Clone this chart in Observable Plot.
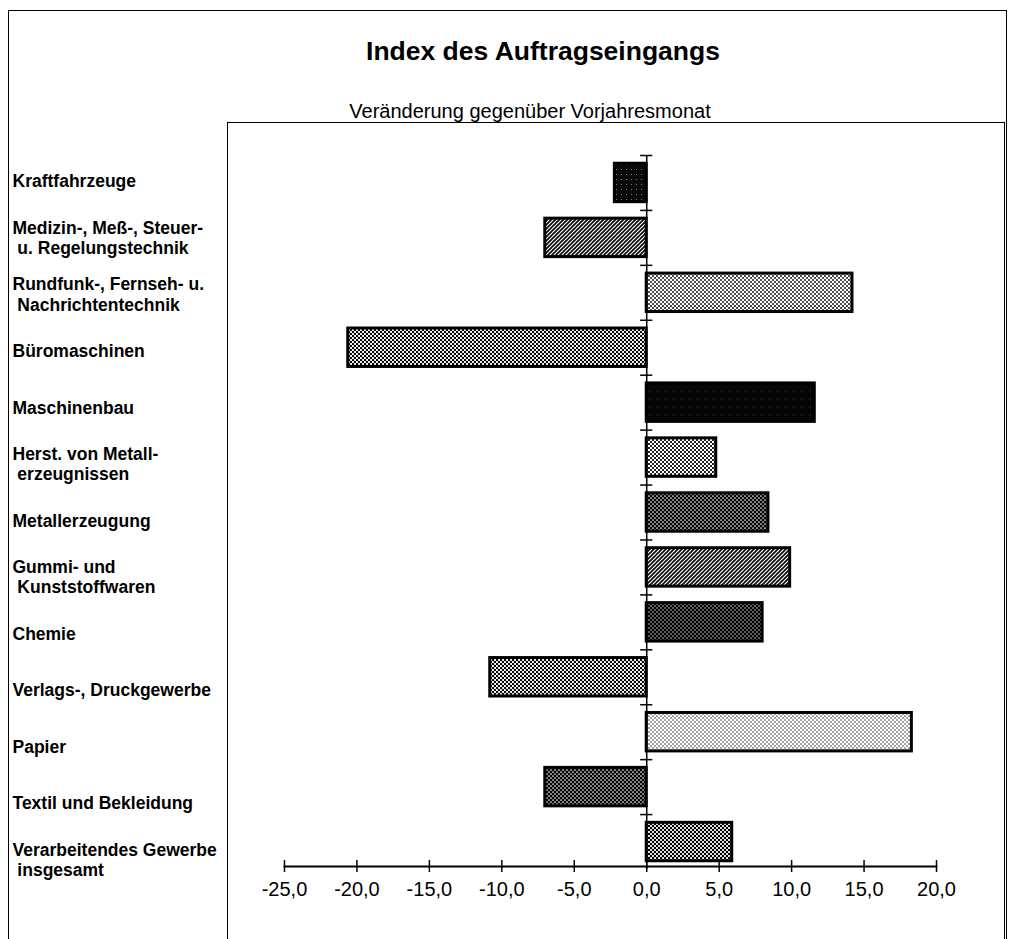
<!DOCTYPE html>
<html>
<head>
<meta charset="utf-8">
<script src="https://cdn.jsdelivr.net/npm/d3@7"></script>
<script src="https://cdn.jsdelivr.net/npm/@observablehq/plot@0.6"></script>
<style>
  html, body { margin: 0; padding: 0; background: #fff; }
  body { width: 1009px; height: 939px; position: relative; overflow: hidden; font-family: "Liberation Sans", Arial, sans-serif; color: #000; }
  #outer { position: absolute; left: 8px; top: 10px; width: 997px; height: 1000px; border: 1.5px solid #000; border-bottom: none; }
  #title { position: absolute; top: 36px; left: 543px; transform: translateX(-50%); white-space: nowrap; font-size: 26.5px; font-weight: bold; line-height: 1.2; }
  #subtitle { position: absolute; top: 99px; left: 530px; transform: translateX(-50%); white-space: nowrap; font-size: 20px; line-height: 1.2; }
  #inner { position: absolute; left: 227px; top: 122px; width: 776px; height: 900px; border: 1.5px solid #000; border-bottom: none; }
  #chart { position: absolute; left: 0; top: 123px; }
  #chart svg { display: block; }
</style>
</head>
<body>
<div id="outer"></div>
<div id="title">Index des Auftragseingangs</div>
<div id="subtitle">Veränderung gegenüber Vorjahresmonat</div>
<div id="inner"></div>
<div id="chart"></div>
<script>
// ---- data ----
const categories = [
  "Kraftfahrzeuge",
  "Medizin-, Meß-, Steuer-\n\u00a0u. Regelungstechnik",
  "Rundfunk-, Fernseh- u.\n\u00a0Nachrichtentechnik",
  "Büromaschinen",
  "Maschinenbau",
  "Herst. von Metall-\n\u00a0erzeugnissen",
  "Metallerzeugung",
  "Gummi- und\n\u00a0Kunststoffwaren",
  "Chemie",
  "Verlags-, Druckgewerbe",
  "Papier",
  "Textil und Bekleidung",
  "Verarbeitendes Gewerbe\n\u00a0insgesamt"
];
const values = [-2.2, -7.0, 14.2, -20.6, 11.6, 4.8, 8.4, 9.9, 8.0, -10.8, 18.3, -7.0, 5.9];
const xTicks = [-25, -20, -15, -10, -5, 0, 5, 10, 15, 20];

// ---- styling (per bar shading) ----
const shading = ["pKfz", "pHatch", "pLight", "pMed", "pBlack", "pLight2", "pDark", "pHatch", "pDark2", "pMed", "pVeryLight", "pDark", "pMedDark"];

const table = categories.map((c, i) => ({cat: c, value: values[i], fill: `url(#${shading[i]})`}));

const width = 1009, height = 816;
const marginTop = 32, marginBottom = 70, marginLeft = 284, marginRight = 73;
const step = (height - marginTop - marginBottom) / categories.length;
const labelOffset = -2, labelDrift = 1.6;
const fmt = d => d.toFixed(1).replace(".", ",");

const chart = Plot.plot({
  width, height, marginTop, marginBottom, marginLeft, marginRight,
  style: {fontFamily: "'Liberation Sans', Arial, sans-serif", background: "transparent", color: "#000"},
  x: {domain: [-25, 20]},
  y: {domain: categories, paddingInner: 0.3, paddingOuter: 0.15, axis: null, round: false},
  color: {type: "identity"},
  marks: [
    Plot.barX(table, {x: "value", y: "cat", fill: "fill", stroke: "#000", strokeWidth: 3}),
    Plot.ruleX([0], {stroke: "#000", strokeWidth: 1.5}),
    Plot.ruleY(categories, {y: d => d, x1: -0.42, x2: 0.42, dy: -step / 2, stroke: "#000", strokeWidth: 1.5}),
    Plot.frame({anchor: "bottom", stroke: "#000", strokeWidth: 1.8, dy: -3}),
    Plot.axisX({ticks: xTicks, tickSize: 12, dy: -9, tickPadding: 9, tickFormat: fmt, fontSize: 20, label: null, strokeWidth: 1.5}),
    ...categories.map((c, i) => Plot.text([c], {
      y: d => d, text: d => d, frameAnchor: "left", textAnchor: "start",
      dx: 12 - marginLeft, dy: labelOffset + i * labelDrift, fontWeight: "bold", fontSize: 17.5, lineHeight: 1.15
    }))
  ]
});

// pattern definitions
const defs = `
<defs>
  <pattern id="pKfz" patternUnits="userSpaceOnUse" width="5" height="5">
    <rect width="5" height="5" fill="#0a0a0a"/>
    <circle cx="1.5" cy="1.5" r="0.5" fill="#fff" opacity="0.6"/>
  </pattern>
  <pattern id="pBlack" patternUnits="userSpaceOnUse" width="8" height="8">
    <rect width="8" height="8" fill="#050505"/>
    <circle cx="2" cy="4" r="0.45" fill="#fff" opacity="0.5"/>
  </pattern>
  <pattern id="pHatch" patternUnits="userSpaceOnUse" width="4" height="4">
    <rect width="4" height="4" fill="#fff"/>
    <path d="M-1,1 l2,-2 M0,4 l4,-4 M3,5 l2,-2" stroke="#000" stroke-width="1.6"/>
  </pattern>
  <pattern id="pLight" patternUnits="userSpaceOnUse" width="4" height="4">
    <rect width="4" height="4" fill="#fff"/>
    <circle cx="1" cy="1" r="0.95" fill="#000"/>
    <circle cx="3" cy="3" r="0.95" fill="#000"/>
  </pattern>
  <pattern id="pLight2" patternUnits="userSpaceOnUse" width="4" height="4">
    <rect width="4" height="4" fill="#fff"/>
    <circle cx="1" cy="1" r="1.05" fill="#000"/>
    <circle cx="3" cy="3" r="1.05" fill="#000"/>
  </pattern>
  <pattern id="pVeryLight" patternUnits="userSpaceOnUse" width="4" height="4">
    <rect width="4" height="4" fill="#fff"/>
    <circle cx="1" cy="1" r="0.7" fill="#000"/>
    <circle cx="3" cy="3" r="0.7" fill="#000"/>
  </pattern>
  <pattern id="pMed" patternUnits="userSpaceOnUse" width="4" height="4">
    <rect width="4" height="4" fill="#fff"/>
    <circle cx="1" cy="1" r="1.2" fill="#000"/>
    <circle cx="3" cy="3" r="1.2" fill="#000"/>
  </pattern>
  <pattern id="pMedDark" patternUnits="userSpaceOnUse" width="4" height="4">
    <rect width="4" height="4" fill="#000"/>
    <circle cx="1" cy="1" r="1.05" fill="#fff"/>
    <circle cx="3" cy="3" r="1.05" fill="#fff"/>
  </pattern>
  <pattern id="pDark" patternUnits="userSpaceOnUse" width="4" height="4">
    <rect width="4" height="4" fill="#000"/>
    <circle cx="1" cy="1" r="0.85" fill="#fff"/>
    <circle cx="3" cy="3" r="0.85" fill="#fff"/>
  </pattern>
  <pattern id="pDark2" patternUnits="userSpaceOnUse" width="4" height="4">
    <rect width="4" height="4" fill="#000"/>
    <circle cx="1" cy="1" r="0.7" fill="#fff"/>
    <circle cx="3" cy="3" r="0.7" fill="#fff"/>
  </pattern>
</defs>`;
chart.insertAdjacentHTML("afterbegin", defs);
document.getElementById("chart").appendChild(chart);
</script>
</body>
</html>
